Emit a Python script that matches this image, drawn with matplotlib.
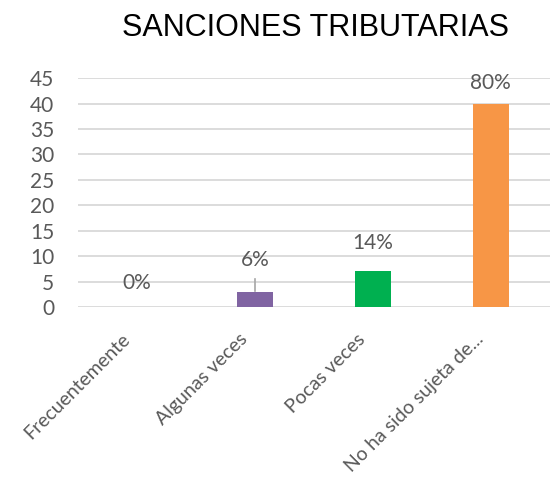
import matplotlib.pyplot as plt
import matplotlib.transforms as mtransforms
import numpy as np

plt.rcParams['font.family'] = ['Lato', 'DejaVu Sans']

categorias = ["Frecuentemente", "Algunas veces", "Pocas veces", "No ha sido sujeta de..."]
valores = [0, 3, 7, 40]
etiquetas = ["0%", "6%", "14%", "80%"]
colores = ["#8064A2", "#8064A2", "#00B050", "#F79646"]

gris = "#595959"

fig = plt.figure(figsize=(5.52, 4.82), dpi=100)
ax = fig.add_axes([0.141, 0.363, 0.855, 0.475])

x = np.arange(len(categorias))
ax.bar(x, valores, width=0.31, color=colores, zorder=3)

# etiquetas de datos
offsets = [4.7, 6.2, 5.6, 4.0]
for i in range(len(valores)):
    ax.text(x[i], valores[i] + offsets[i], etiquetas[i], ha='center', va='center',
            fontsize=15, color=gris, zorder=4)
# linea guia para 6%
ax.plot([x[1], x[1]], [valores[1] + 0.1, valores[1] + 2.6], color="#A6A6A6", lw=1.2, zorder=4)

ax.set_xlim(-0.5, len(categorias) - 0.5)
ax.set_ylim(0, 45)
ax.set_yticks(np.arange(0, 46, 5))
ax.yaxis.grid(True, color="#D9D9D9", lw=1.3, zorder=0)
ax.set_axisbelow(True)
for s in ax.spines.values():
    s.set_visible(False)
ax.tick_params(axis='both', length=0, colors=gris)
ax.tick_params(axis='y', pad=17, labelsize=15)
ax.set_xticks(x)
ax.set_xticklabels(categorias, rotation=45, ha='right', rotation_mode='anchor')
ax.tick_params(axis='x', pad=17, labelsize=14)
desplaza = mtransforms.ScaledTranslation(-16 / 100, 0, fig.dpi_scale_trans)
for lbl in ax.get_xticklabels():
    lbl.set_transform(lbl.get_transform() + desplaza)

fig.text(0.571, 0.942, "SANCIONES TRIBUTARIAS", ha='center', va='center',
         fontsize=22, color="black", family=['Liberation Sans', 'DejaVu Sans'])

fig.savefig("out.png", dpi=100)
